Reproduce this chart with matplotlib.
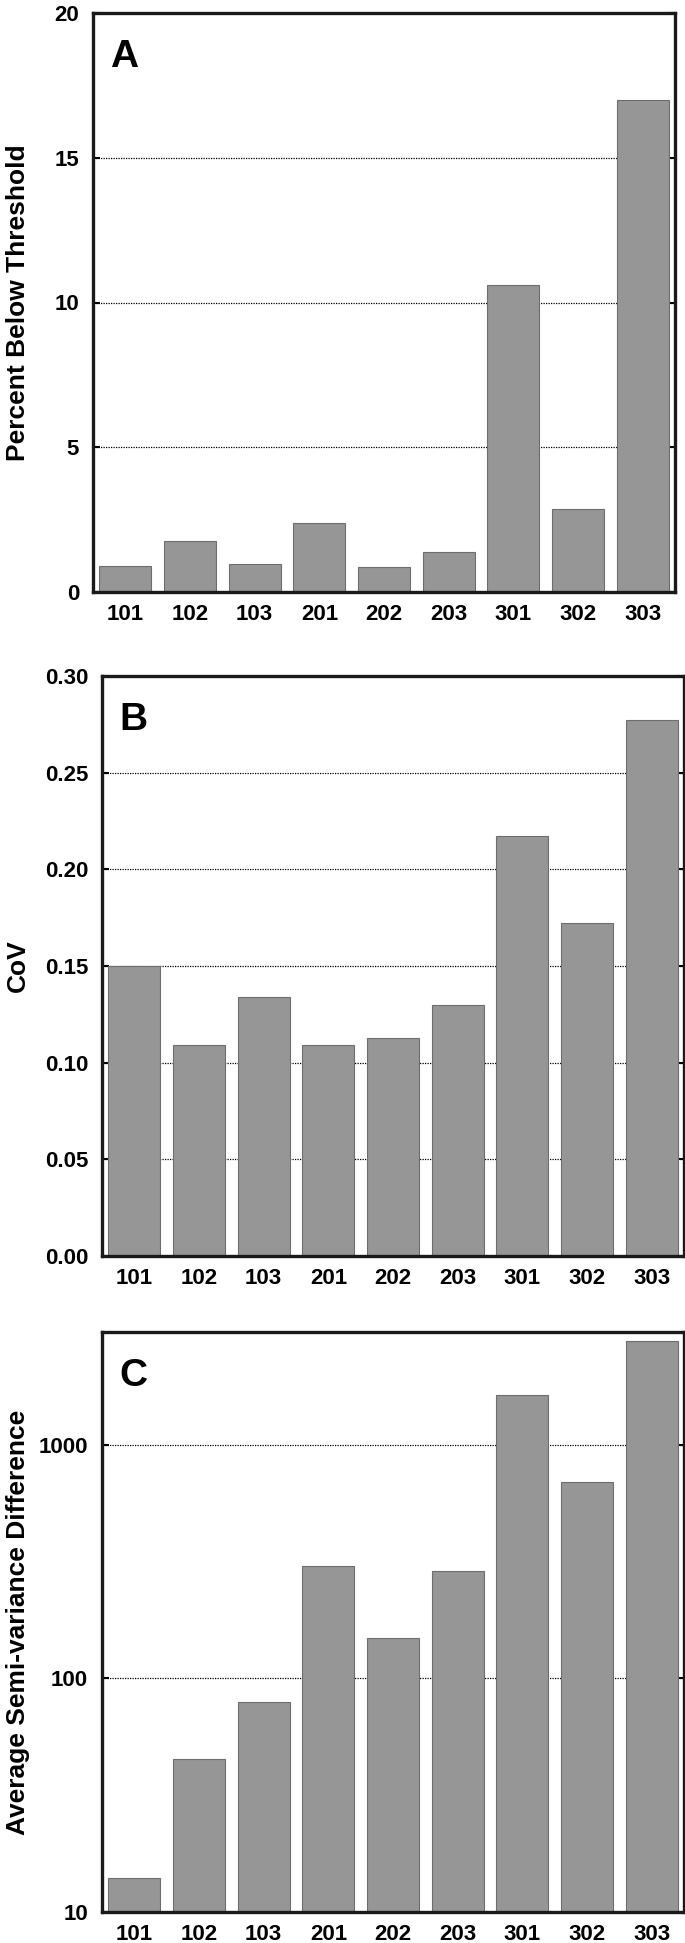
import numpy as np
import matplotlib
matplotlib.use('Agg')
import matplotlib.pyplot as plt
import matplotlib as mpl
from matplotlib.ticker import FixedLocator, NullLocator, FuncFormatter

# ----------------------------------
# Data
# ----------------------------------

sites = ['101', '102', '103', '201', '202', '203', '301', '302', '303']

percent_below = [0.90, 1.77, 0.97, 2.38, 0.87, 1.39, 10.59, 2.87, 16.99]
cov = [0.150, 0.109, 0.134, 0.109, 0.113, 0.130, 0.217, 0.172, 0.277]
semivar_diff = [14.0, 45.0, 79.0, 303.0, 149.0, 289.0, 1630.0, 690.0, 2770.0]

panel_letters = ['A', 'B', 'C']
ylabels = ['Percent Below Threshold', 'CoV', 'Average Semi-variance Difference']

# ----------------------------------
# Style
# ----------------------------------

mpl.rcParams['font.family'] = 'Liberation Sans'
mpl.rcParams['font.weight'] = 'bold'

BAR_COLOR = '#969696'
EDGE_COLOR = '#6e6e6e'

W, H = 685, 1943


def px_box(left, right, top, bottom):
    """Axes rectangle in figure fractions from pixel edges."""
    return [left / W, 1 - bottom / H, (right - left) / W, (bottom - top) / H]


def style_panel(ax, letter, ylabel, fig):
    x = np.arange(len(sites))
    ax.set_xlim(-0.5, len(sites) - 0.5)
    ax.set_xticks(x)
    ax.set_xticklabels(sites)
    ax.tick_params(axis='x', length=0, pad=9, labelsize=16)
    ax.tick_params(axis='y', direction='in', length=5, width=1.5,
                   right=True, pad=10, labelsize=16)

    for sp in ax.spines.values():
        sp.set_linewidth(2.4)
        sp.set_color('#1a1a1a')

    ax.set_axisbelow(True)
    ax.yaxis.grid(True, color='black', linestyle=(0, (1, 1)), linewidth=0.9)

    ax.text(0.03, 0.955, letter, transform=ax.transAxes, fontsize=28,
            fontweight='bold', va='top', ha='left')

    # y label sits at the same place for every panel, centred on the axes
    ax.set_ylabel(ylabel, fontsize=19, fontweight='bold')
    pos = ax.get_position()
    ax.yaxis.set_label_coords(30 / W, pos.y0 + pos.height / 2, transform=fig.transFigure)


# ----------------------------------
# Plot
# ----------------------------------

fig = plt.figure(figsize=(W / 100, H / 100), dpi=100)

ax_a = fig.add_axes(px_box(93, 675, 13, 592))
ax_b = fig.add_axes(px_box(102, 684, 676, 1256))
ax_c = fig.add_axes(px_box(102, 684, 1332, 1912))

x = np.arange(len(sites))

# A ----------------------------------------
ax_a.bar(x, percent_below, width=0.8, color=BAR_COLOR, edgecolor=EDGE_COLOR, linewidth=0.8)
ax_a.set_ylim(0, 20)
ax_a.set_yticks([0, 5, 10, 15, 20])
style_panel(ax_a, panel_letters[0], ylabels[0], fig)

# B ----------------------------------------
ax_b.bar(x, cov, width=0.8, color=BAR_COLOR, edgecolor=EDGE_COLOR, linewidth=0.8)
ax_b.set_ylim(0, 0.30)
ax_b.set_yticks([0.0, 0.05, 0.10, 0.15, 0.20, 0.25, 0.30])
ax_b.yaxis.set_major_formatter(FuncFormatter(lambda v, p: f'{v:.2f}'))
style_panel(ax_b, panel_letters[1], ylabels[1], fig)

# C ----------------------------------------
ax_c.bar(x, semivar_diff, width=0.8, color=BAR_COLOR, edgecolor=EDGE_COLOR, linewidth=0.8)
ax_c.set_yscale('log')
ax_c.set_ylim(10, 3040)
ax_c.yaxis.set_major_locator(FixedLocator([10, 100, 1000]))
ax_c.yaxis.set_minor_locator(NullLocator())
ax_c.yaxis.set_major_formatter(FuncFormatter(lambda v, p: f'{v:.0f}'))
style_panel(ax_c, panel_letters[2], ylabels[2], fig)

fig.savefig('out.png', dpi=100)
